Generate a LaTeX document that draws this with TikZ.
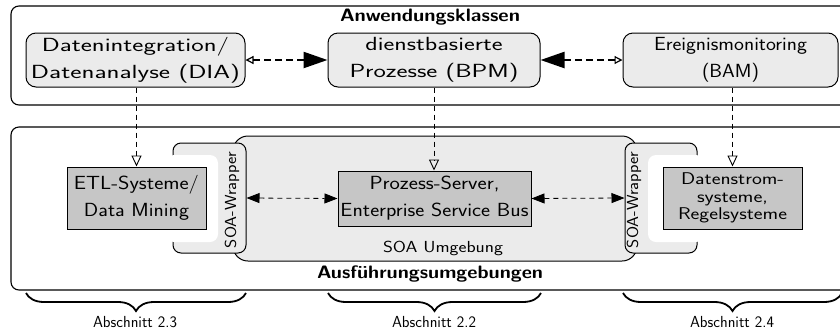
\documentclass[tikz,border=0pt]{standalone}
\usepackage{graphicx}
\usetikzlibrary{arrows.meta,decorations.pathreplacing}
\definecolor{lightbox}{HTML}{EBEBEB}
\definecolor{darkbox}{HTML}{C6C6C6}
\newcommand\fw[2]{\resizebox{#1pt}{\height}{#2}}
\begin{document}
\begin{tikzpicture}[x=1pt,y=-1pt,
  font=\sffamily,
  outerbox/.style={draw, line width=1.1pt, rounded corners=8pt},
  topbox/.style={draw, line width=1pt, fill=lightbox, rounded corners=10pt, align=center, inner sep=0pt, font=\sffamily\fontsize{19}{27}\selectfont},
  sysbox/.style={draw, line width=1pt, fill=darkbox, align=center, inner sep=0pt, font=\sffamily\fontsize{19}{27}\selectfont},
  wrapbox/.style={draw, line width=1pt, fill=lightbox, rounded corners=8pt, inner sep=0pt},
  bigarrow/.style={line width=2.4pt, dash pattern=on 7pt off 4pt},
  vconn/.style={line width=0.8pt, dash pattern=on 5pt off 4pt, -{Triangle[open,length=11pt,width=10pt,line width=0.9pt]}},
  hconn/.style={line width=0.8pt, dash pattern=on 5pt off 4pt, {Triangle[length=13pt,width=10pt]}-{Triangle[length=13pt,width=10pt]}},
  brc/.style={decorate, decoration={brace, mirror, amplitude=18pt}, line width=1.8pt},
  small/.style={font=\sffamily\fontsize{16}{18}\selectfont},
  heading/.style={font=\sffamily\bfseries\fontsize{18}{20}\selectfont}
]
\useasboundingbox (0,0) rectangle (840,333);
\clip (0,0) rectangle (840,333);

% upper frame
\draw[outerbox] (11,6) rectangle (852,105);
\node[heading] (hdtop) at (430,17) {\fw{180}{Anwendungsklassen}};

\node[topbox, minimum width=219pt, minimum height=54pt] (dia) at (135.5,60) {\fw{187}{Datenintegration/}\\\fw{209}{Datenanalyse (DIA)}};
\node[topbox, minimum width=212pt, minimum height=54pt] (bpm) at (434,60) {\fw{137}{dienstbasierte}\\\fw{169}{Prozesse (BPM)}};
\node[topbox, minimum width=215pt, minimum height=54pt] (bam) at (730.5,60) {\fw{153}{Ereignismonitoring}\\\fw{57}{(BAM)}};

\draw[bigarrow, {Triangle[open,length=8pt,width=8pt,line width=1.2pt]}-{Triangle[length=24pt,width=16pt]}] (dia.east) -- (bpm.west);
\draw[bigarrow, {Triangle[length=24pt,width=16pt]}-{Triangle[open,length=8pt,width=8pt,line width=1.2pt]}] (bpm.east) -- (bam.west);

% lower frame
\draw[outerbox] (11,127) rectangle (852,290);
\node[heading] (hdbot) at (430,274) {\fw{226}{Ausf\"uhrungsumgebungen}};

\node[draw, line width=1pt, fill=lightbox, rounded corners=15pt, minimum width=404pt, minimum height=125pt, inner sep=0pt] (soa) at (435,198.5) {};
\node[small] (soalbl) at (443,248) {\fw{120}{SOA Umgebung}};

% left wrapper
\node[wrapbox, minimum width=73pt, minimum height=110pt] (lw) at (209.5,198) {};
\fill[white, rounded corners=8pt] (166,155) rectangle (218,242);
\node[small, rotate=90] (lwl) at (232,200) {\fw{96}{SOA-Wrapper}};

% right wrapper
\node[wrapbox, minimum width=72pt, minimum height=110pt] (rw) at (661,198) {};
\fill[white, rounded corners=8pt] (648,155) rectangle (704,242);
\node[small, rotate=90] (rwl) at (634,200) {\fw{96}{SOA-Wrapper}};

\node[sysbox, minimum width=139pt, minimum height=62pt] (etl) at (136.5,198) {\fw{125}{ETL-Systeme/}\\\fw{105}{Data Mining}};
\node[sysbox, minimum width=193pt, minimum height=55pt] (ps) at (434.5,198.5) {\fw{130}{Prozess-Server,}\\\fw{188}{Enterprise Service Bus}};
\node[sysbox, minimum width=139pt, minimum height=62pt, font=\sffamily\fontsize{17}{17.5}\selectfont] (ds) at (732.5,198) {\fw{103}{Datenstrom-}\\\fw{71}{systeme,}\\\fw{109}{Regelsysteme}};

\draw[hconn] (lw.east) -- (ps.west);
\draw[hconn] (ps.east) -- (rw.west);

\draw[vconn] (dia.south -| etl.north) -- (etl.north);
\draw[vconn] (bpm.south) -- (bpm.south |- ps.north);
\draw[vconn] (bam.south -| ds.north) -- (ds.north);

% braces
\coordinate (b1a) at (26,293); \coordinate (b1b) at (246,293);
\coordinate (b2a) at (328,293); \coordinate (b2b) at (541,293);
\coordinate (b3a) at (623,293); \coordinate (b3b) at (842,293);
\draw[brc] (b1a) -- (b1b);
\draw[brc] (b2a) -- (b2b);
\draw[brc] (b3a) -- (b3b);
\node[small] (s1) at (135,322) {\fw{84}{Abschnitt 2.3}};
\node[small] (s2) at (434,322) {\fw{84}{Abschnitt 2.2}};
\node[small] (s3) at (732,322) {\fw{84}{Abschnitt 2.4}};
\end{tikzpicture}
\end{document}
